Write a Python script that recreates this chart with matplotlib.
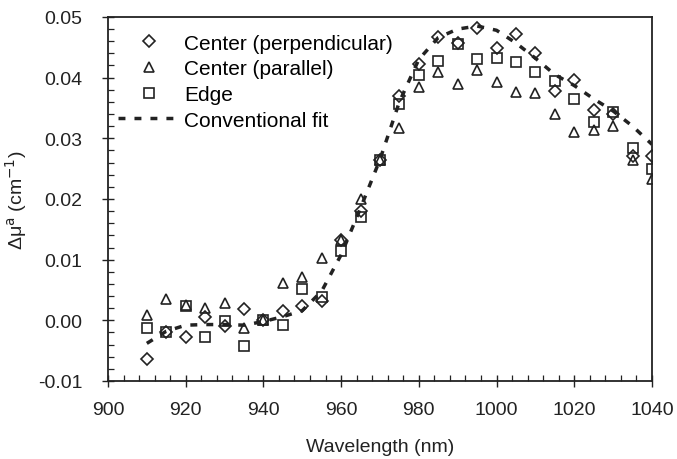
import numpy as np
import matplotlib.pyplot as plt
from matplotlib.ticker import MultipleLocator

plt.rcParams['font.family'] = ['Liberation Sans', 'DejaVu Sans']

wavelength = [910, 915, 920, 925, 930, 935, 940, 945, 950, 955, 960, 965, 970,
              975, 980, 985, 990, 995, 1000, 1005, 1010, 1015, 1020, 1025, 1030,
              1035, 1040]

center_perp = [-0.0063, -0.0020, -0.0028, 0.0005, -0.0010, 0.0018, 0.0000,
               0.0015, 0.0023, 0.0032, 0.0133, 0.0180, 0.0265, 0.0370, 0.0422,
               0.0467, 0.0457, 0.0482, 0.0449, 0.0472, 0.0440, 0.0378, 0.0396,
               0.0347, 0.0340, 0.0270, 0.0270]

center_par = [0.0008, 0.0035, 0.0025, 0.0020, 0.0028, -0.0012, 0.0000,
              0.0062, 0.0072, 0.0102, 0.0133, 0.0200, 0.0265, 0.0317, 0.0385,
              0.0410, 0.0390, 0.0412, 0.0393, 0.0376, 0.0375, 0.0340, 0.0310,
              0.0313, 0.0320, 0.0265, 0.0233]

edge = [-0.0013, -0.0020, 0.0023, -0.0027, -0.0001, -0.0043, 0.0000,
        -0.0008, 0.0052, 0.0038, 0.0115, 0.0170, 0.0265, 0.0357, 0.0405,
        0.0427, 0.0456, 0.0430, 0.0433, 0.0425, 0.0410, 0.0394, 0.0364,
        0.0327, 0.0343, 0.0284, 0.0250]

fit = [-0.0038, -0.0018, -0.0008, -0.0007, -0.0007, -0.0008, -0.0002,
       0.0006, 0.0016, 0.0048, 0.0108, 0.0185, 0.0265, 0.0360, 0.0430,
       0.0466, 0.0480, 0.0485, 0.0478, 0.0457, 0.0432, 0.0405, 0.0387,
       0.0365, 0.0345, 0.0320, 0.0290]

fig = plt.figure(figsize=(6.77, 4.6), dpi=100)
ax = fig.add_axes([0.1595, 0.1696, 0.8035, 0.7914])

mk = dict(linestyle='none', markerfacecolor='none', markeredgecolor='#222222',
          markeredgewidth=1.2, markersize=7)
ax.plot(wavelength, center_perp, marker='D', label='Center (perpendicular)',
        **{**mk, 'markersize': 6})
ax.plot(wavelength, center_par, marker='^', label='Center (parallel)', **mk)
ax.plot(wavelength, edge, marker='s', label='Edge', **mk)
ax.plot(wavelength, fit, color='#222222', linewidth=2.5, dashes=(2.0, 2.6),
        label='Conventional fit')

ax.set_xlim(900, 1040)
ax.set_ylim(-0.01, 0.05)
ax.xaxis.set_major_locator(MultipleLocator(20))
ax.xaxis.set_minor_locator(MultipleLocator(4))
ax.yaxis.set_major_locator(MultipleLocator(0.01))
ax.yaxis.set_minor_locator(MultipleLocator(0.002))
ax.yaxis.set_major_formatter(plt.FuncFormatter(lambda v, p: f'{v:.2f}'))

ax.tick_params(which='major', direction='inout', length=9, width=1.0,
               labelsize=14, colors='#222222')
ax.tick_params(axis='y', which='major', pad=14)
ax.tick_params(axis='x', which='major', pad=10)
ax.tick_params(which='minor', direction='in', length=4, width=0.9,
               colors='#222222')
for s in ax.spines.values():
    s.set_linewidth(1.3)
    s.set_color('#222222')

ax.set_xlabel('Wavelength (nm)', fontsize=14, color='#222222', labelpad=14)
ax.set_ylabel('Δμ$^{\\mathrm{a}}$ (cm$^{-1}$)', fontsize=14, color='#222222',
              labelpad=6)

ax.legend(loc='upper left', frameon=False, fontsize=15, handlelength=3.0,
          handletextpad=0.2, labelspacing=0.32, borderaxespad=0,
          borderpad=0, bbox_to_anchor=(0.018, 0.954))

fig.savefig('out.png', dpi=100)
